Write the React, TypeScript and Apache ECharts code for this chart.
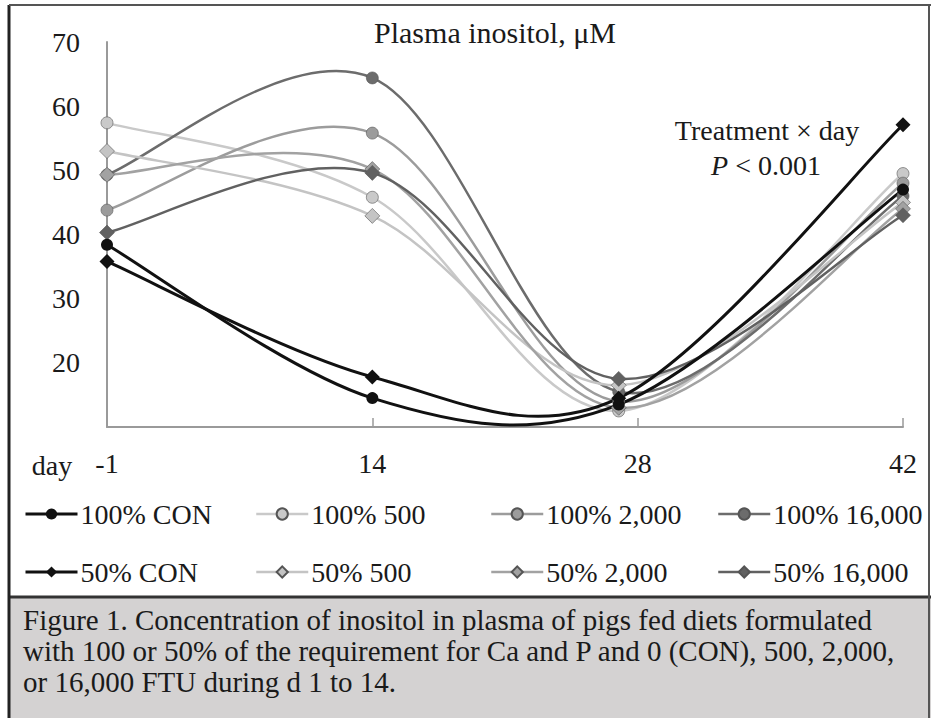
import React, { useEffect, useRef } from "react";
import * as echarts from "echarts";

const sampleDays = [0, 14, 27, 42];
const xTickLabels: Record<number, string> = { 0: "-1", 14: "14", 28: "28", 42: "42" };
const yTicks = [10, 20, 30, 40, 50, 60, 70];

const con100 = [38.4, 14.5, 13.5, 47.0];
const f500_100 = [57.4, 45.8, 12.5, 49.5];
const f2000_100 = [43.8, 55.8, 14.0, 48.0];
const f16000_100 = [49.3, 64.4, 15.5, 46.0];
const con50 = [35.8, 17.8, 14.5, 57.1];
const f500_50 = [53.0, 42.9, 16.5, 45.0];
const f2000_50 = [49.3, 50.2, 13.0, 44.0];
const f16000_50 = [40.3, 49.6, 17.5, 43.0];

const seriesNames = [
  "100% CON", "100% 500", "100% 2,000", "100% 16,000",
  "50% CON", "50% 500", "50% 2,000", "50% 16,000",
];
const seriesData = [con100, f500_100, f2000_100, f16000_100, con50, f500_50, f2000_50, f16000_50];
const seriesColors = ["#111111", "#c9c9c9", "#9c9c9c", "#6c6c6c", "#111111", "#c4c4c4", "#a2a2a2", "#616161"];
const seriesSymbols = ["circle", "circle", "circle", "circle", "diamond", "diamond", "diamond", "diamond"];

const captionLines = [
  "Figure 1. Concentration of inositol in plasma of pigs fed diets formulated",
  "with 100 or 50% of the requirement for Ca and P and 0 (CON), 500, 2,000,",
  "or 16,000 FTU during d 1 to 14.",
];

const FONT = "'Liberation Serif', 'Times New Roman', serif";
const FS = 28;

export default function App() {
  const ref = useRef<HTMLDivElement>(null);
  useEffect(() => {
    if (!ref.current) return;
    const chart = echarts.init(ref.current, null, { renderer: "svg" });
    const legendX = [24, 255, 490, 717];
    const legendY = [500, 558];
    const legends = seriesNames.map((n, i) => {
      const isCon = i === 0 || i === 4;
      return {
        data: [{ name: n, lineStyle: { opacity: 1, color: seriesColors[i], width: isCon ? 3 : 2.5 } }],
        left: legendX[i % 4],
        top: legendY[Math.floor(i / 4)],
        padding: 0,
        itemWidth: 52,
        itemHeight: 14,
        itemGap: 4,
        lineStyle: { opacity: 1, color: seriesColors[i], width: isCon ? 3 : 2.5 },
        textStyle: { fontFamily: FONT, fontSize: FS, color: "#1a1a1a", padding: [0, 0, 0, -2] },
        selectedMode: false,
      };
    });
    const curveSeries = seriesNames.map((n, k) => {
      const arr = seriesData[k];
      const isCon = k === 0 || k === 4;
      return {
        name: n + " curve",
        type: "custom",
        data: arr.map((v, i) => [sampleDays[i], v]),
        z: isCon ? 3 : 2,
        silent: true,
        renderItem: (params: any, api: any) => {
          const i = params.dataIndex;
          if (i >= arr.length - 1) return { type: "group", children: [] };
          const pt = (j: number) => {
            const jj = Math.max(0, Math.min(arr.length - 1, j));
            return api.coord([sampleDays[jj], arr[jj]]);
          };
          const p0 = pt(i - 1), p1 = pt(i), p2 = pt(i + 1), p3 = pt(i + 2);
          const t = 1 / 6;
          return {
            type: "bezierCurve",
            shape: {
              x1: p1[0], y1: p1[1],
              cpx1: p1[0] + (p2[0] - p0[0]) * t, cpy1: p1[1] + (p2[1] - p0[1]) * t,
              cpx2: p2[0] - (p3[0] - p1[0]) * t, cpy2: p2[1] - (p3[1] - p1[1]) * t,
              x2: p2[0], y2: p2[1],
            },
            style: { stroke: seriesColors[k], lineWidth: isCon ? 3 : 2.5, fill: null },
          };
        },
      };
    });
    const markerSeries = seriesNames.map((n, i) => {
      const isCon = i === 0 || i === 4;
      const isDia = seriesSymbols[i] === "diamond";
      return {
        name: n,
        type: "line",
        data: seriesData[i].map((v, j) => [sampleDays[j], v]),
        symbol: seriesSymbols[i],
        symbolSize: isDia ? 15 : 12,
        showSymbol: true,
        lineStyle: { color: seriesColors[i], width: isCon ? 3 : 2.5, opacity: 0 },
        itemStyle: {
          color: seriesColors[i],
          borderColor: isCon ? "#000" : "#555",
          borderWidth: isCon ? 0 : 0.6,
        },
        z: isCon ? 5 : 4,
      };
    });
    chart.setOption({
      animation: false,
      backgroundColor: "#ffffff",
      legend: legends,
      grid: { left: 107, right: 28, top: 42, bottom: 291, containLabel: false },
      xAxis: {
        type: "value",
        min: 0,
        max: 42,
        interval: 14,
        axisLine: { lineStyle: { color: "#9a9a9a", width: 2 } },
        axisTick: { show: true, inside: true, length: 9, lineStyle: { color: "#9a9a9a", width: 1.5 } },
        axisLabel: {
          fontFamily: FONT, fontSize: FS, color: "#1a1a1a", margin: 22,
          formatter: (v: number) => xTickLabels[v] ?? "",
        },
        splitLine: { show: false },
      },
      yAxis: {
        type: "value",
        min: 10,
        max: 70,
        interval: 10,
        axisLine: { show: true, lineStyle: { color: "#9a9a9a", width: 2 } },
        axisTick: { show: false },
        axisLabel: {
          fontFamily: FONT,
          fontSize: FS,
          color: "#1a1a1a",
          margin: 27,
          formatter: (v: number) => (v === yTicks[0] ? "" : String(v)),
        },
        splitLine: { show: false },
      },
      graphic: [
        { type: "rect", shape: { x: 9, y: 598, width: 922, height: 120 }, style: { fill: "#d4d2d2" }, z: -1 },
        { type: "line", shape: { x1: 9, y1: 597, x2: 931, y2: 597 }, style: { stroke: "#333", lineWidth: 3 } },
        { type: "line", shape: { x1: 9, y1: 5, x2: 9, y2: 718 }, style: { stroke: "#222", lineWidth: 3 } },
        { type: "line", shape: { x1: 9, y1: 5, x2: 931, y2: 5 }, style: { stroke: "#555", lineWidth: 2 } },
        { type: "line", shape: { x1: 929, y1: 5, x2: 929, y2: 718 }, style: { stroke: "#555", lineWidth: 2 } },
        {
          type: "text", x: 495, y: 32,
          style: { text: "Plasma inositol, μM", font: `30px ${FONT}`, fill: "#1a1a1a", textAlign: "center", textVerticalAlign: "middle" },
        },
        {
          type: "text", x: 767, y: 130,
          style: { text: "Treatment × day", font: `${FS}px ${FONT}`, fill: "#1a1a1a", textAlign: "center", textVerticalAlign: "middle" },
        },
        {
          type: "text", x: 766, y: 165,
          style: {
            text: "{i|P} < 0.001",
            font: `${FS}px ${FONT}`,
            fill: "#1a1a1a",
            textAlign: "center",
            textVerticalAlign: "middle",
            rich: { i: { fontStyle: "italic", fontFamily: FONT, fontSize: FS, fill: "#1a1a1a" } },
          },
        },
        {
          type: "text", x: 52, y: 465,
          style: { text: "day", font: `${FS}px ${FONT}`, fill: "#1a1a1a", textAlign: "center", textVerticalAlign: "middle" },
        },
        ...captionLines.map((t, i) => ({
          type: "text", x: 23, y: 620 + i * 31,
          style: { text: t, font: `29px ${FONT}`, fill: "#1a1a1a", textAlign: "left", textVerticalAlign: "middle" },
        })),
      ],
      series: [...curveSeries, ...markerSeries],
    });
    return () => chart.dispose();
  }, []);
  return <div ref={ref} style={{ position: "fixed", left: 0, top: 0, width: 931, height: 718 }} />;
}
